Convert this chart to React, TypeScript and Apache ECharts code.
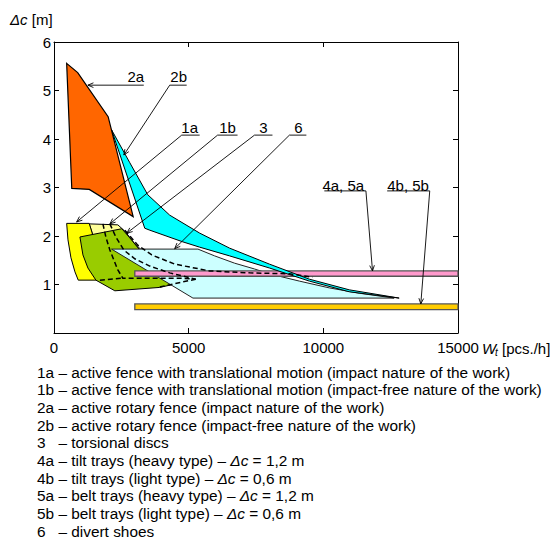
import React, { useEffect, useRef } from 'react';
import * as echarts from 'echarts';

const FONT = '"Liberation Sans", Arial, Helvetica, sans-serif';
type P = [number, number];

// axes
const xMin = 0, xMax = 15000, xStep = 5000;
const yMin = 0, yMax = 6, yStep = 1;

// regions (Wt [pcs./h], Δc [m])
const shape1b: P[] = [[1307,2.25],[2370,2.23],[2630,2.10],[3000,1.84],[3481,1.59],[4111,1.38],[4741,1.24],[5296,1.11],[4741,1.13],[2556,1.13],[1926,1.09],[1407,2.08]];
const shape1a: P[] = [[470,2.26],[1307,2.26],[1407,2.08],[1593,1.71],[1778,1.40],[1926,1.09],[900,1.09],[778,1.26],[630,1.55],[519,1.92]];
const shape3: P[] = [[963,1.98],[2519,2.15],[2815,1.96],[3185,1.71],[3926,1.46],[4852,1.30],[5296,1.11],[3926,0.94],[2259,0.87],[1556,1.09],[1259,1.34],[1074,1.61]];
const shape6: P[] = [[2137,1.73],[5344,1.73],[5963,1.59],[6704,1.44],[7444,1.32],[8000,1.22],[9111,1.07],[10222,0.93],[11333,0.82],[12630,0.72],[5159,0.72]];
const band4a5a: P[] = [[3000,1.28],[15000,1.28],[15000,1.17],[3000,1.17]];
const band4b5b: P[] = [[3000,0.60],[15000,0.60],[15000,0.48],[3000,0.48]];
const shape2b: P[] = [[2137,4.19],[2815,3.51],[3481,2.85],[4296,2.43],[5407,2.06],[6519,1.75],[8000,1.42],[9481,1.11],[10963,0.89],[12815,0.72],[10963,0.85],[9481,1.07],[8000,1.34],[6519,1.59],[5407,1.77],[4778,1.88],[3556,2.12],[3370,2.16]];
const shape2a: P[] = [[470,5.56],[880,5.37],[2010,4.46],[2940,2.40],[1310,2.96],[660,2.98]];

// hidden (dashed) boundaries
const dash1: P[] = [[1815,2.25],[1926,1.98],[2074,1.71],[2370,1.30],[2556,1.13],[4741,1.13],[5259,1.11]];
const dash2: P[] = [[2074,2.25],[2296,1.98],[2593,1.71],[3000,1.53],[3556,1.38],[4296,1.24],[5259,1.11]];
const dash3: P[] = [[2630,2.12],[3111,1.81],[3630,1.61],[4481,1.42],[5778,1.28],[7259,1.24],[8741,1.22],[9593,1.15]];
const dash4: P[] = [[3926,0.95],[5259,1.11]];
const dash5: P[] = [[1704,1.09],[2556,1.13]];

// callouts
const calloutTexts = ['2a','2b','1a','1b','3','6','4a, 5a','4b, 5b'];
const calloutPos: P[] = [[3037,5.28],[4630,5.28],[5037,4.23],[6444,4.23],[7778,4.23],[9074,4.23],[10741,3.05],[13148,3.05]];
const leader2a: P[] = [[3333,5.11],[1259,5.11]];
const leader2b: P[] = [[4926,5.11],[4296,5.11],[2593,3.67]];
const leader1a: P[] = [[5407,4.08],[4741,4.08],[841,2.29]];
const leader1b: P[] = [[6815,4.08],[6074,4.08],[2074,2.25]];
const leader3: P[] = [[8111,4.08],[7444,4.08],[2704,2.06]];
const leader6: P[] = [[9370,4.08],[8741,4.08],[4481,1.74]];
const leader4a5a: P[] = [[10037,2.93],[11581,2.93],[11826,1.28]];
const leader4b5b: P[] = [[12370,2.93],[13951,2.93],[13619,0.60]];

// key
const keyCodes = ['1a','1b','2a','2b','3','4a','4b','5a','5b','6'];
const keyTexts = [
  '– active fence with translational motion (impact nature of the work)',
  '– active fence with translational motion (impact-free nature of the work)',
  '– active rotary fence (impact nature of the work)',
  '– active rotary fence (impact-free nature of the work)',
  '– torsional discs',
  '– tilt trays (heavy type) – {i|Δc} = 1,2 m',
  '– tilt trays (light type) – {i|Δc} = 0,6 m',
  '– belt trays (heavy type) – {i|Δc} = 1,2 m',
  '– belt trays (light type) – {i|Δc} = 0,6 m',
  '– divert shoes',
];

const polygons = [
  { name: '1b', pts: shape1b, fill: '#FFFF99', stroke: '#000', lw: 1 },
  { name: '1a', pts: shape1a, fill: '#FFFF00', stroke: '#000', lw: 1 },
  { name: '3', pts: shape3, fill: '#99CC00', stroke: '#000', lw: 1 },
  { name: '6', pts: shape6, fill: '#CCFFFF', stroke: '#222', lw: 1 },
  { name: '4a, 5a', pts: band4a5a, fill: '#FF99CC', stroke: '#555', lw: 1.3 },
  { name: '4b, 5b', pts: band4b5b, fill: '#FFCC00', stroke: '#555', lw: 1.3 },
  { name: '2b', pts: shape2b, fill: '#00FFFF', stroke: '#000', lw: 1 },
  { name: '2a', pts: shape2a, fill: '#FF6600', stroke: '#000', lw: 1.2 },
];
const dashes = [dash1, dash2, dash3, dash4, dash5];
const leaders = [leader2a, leader2b, leader1a, leader1b, leader3, leader6, leader4a5a, leader4b5b];

const KEY_FS = 15.4;

export default function App() {
  const ref = useRef<HTMLDivElement>(null);
  useEffect(() => {
    const chart = echarts.init(ref.current!, null, { renderer: 'svg' });
    const series: any[] = [];
    let z = 2;
    polygons.forEach((poly) => {
      series.push({
        type: 'custom', name: poly.name, coordinateSystem: 'cartesian2d', silent: true, z: z++, clip: false,
        data: poly.pts, encode: { x: 0, y: 1 },
        renderItem: (params: any, api: any) => {
          if (params.dataIndex !== 0) return null;
          return { type: 'polygon', shape: { points: poly.pts.map((p) => api.coord(p)) },
            style: { fill: poly.fill, stroke: poly.stroke, lineWidth: poly.lw, lineJoin: 'miter' } };
        },
      });
    });
    dashes.forEach((d) => {
      series.push({
        type: 'custom', coordinateSystem: 'cartesian2d', silent: true, z: z++, clip: false,
        data: d, encode: { x: 0, y: 1 },
        renderItem: (params: any, api: any) => {
          if (params.dataIndex !== 0) return null;
          return { type: 'polyline', shape: { points: d.map((p) => api.coord(p)) },
            style: { fill: 'none', stroke: '#000', lineWidth: 1.5, lineDash: [5, 3] } };
        },
      });
    });
    leaders.forEach((l) => {
      series.push({
        type: 'custom', coordinateSystem: 'cartesian2d', silent: true, z: z++, clip: false,
        data: l, encode: { x: 0, y: 1 },
        renderItem: (params: any, api: any) => {
          if (params.dataIndex !== 0) return null;
          const pts = l.map((p) => api.coord(p));
          const e = pts[pts.length - 1];
          const s = pts[pts.length - 2];
          const dx = e[0] - s[0], dy = e[1] - s[1];
          const len = Math.hypot(dx, dy) || 1;
          const ux = dx / len, uy = dy / len;
          const L = 6, a = 0.4;
          const ca = Math.cos(a), sa = Math.sin(a);
          const a1 = [e[0] - L * (ux * ca - uy * sa), e[1] - L * (uy * ca + ux * sa)];
          const a2 = [e[0] - L * (ux * ca + uy * sa), e[1] - L * (uy * ca - ux * sa)];
          return { type: 'group', children: [
            { type: 'polyline', shape: { points: pts }, style: { fill: 'none', stroke: '#000', lineWidth: 0.9 } },
            { type: 'polyline', shape: { points: [a1, e, a2] }, style: { fill: 'none', stroke: '#000', lineWidth: 0.9 } },
          ] };
        },
      });
    });
    series.push({
      type: 'custom', coordinateSystem: 'cartesian2d', silent: true, z: z++, clip: false,
      data: calloutPos, encode: { x: 0, y: 1 },
      renderItem: (params: any, api: any) => {
        const c = api.coord([api.value(0), api.value(1)]);
        return { type: 'text', x: c[0], y: c[1],
          style: { text: calloutTexts[params.dataIndex], fill: '#000', font: `15px ${FONT}`, align: 'center', verticalAlign: 'middle' } };
      },
    });

    const keyEls: any[] = [];
    keyCodes.forEach((code, i) => {
      const y = 372 + i * 17.7;
      keyEls.push({ type: 'text', x: 37, y: y, style: { text: code, fill: '#000', font: `${KEY_FS}px ${FONT}`, verticalAlign: 'middle' } });
      keyEls.push({ type: 'text', x: 37 + KEY_FS * 1.39, y: y, style: { text: keyTexts[i], fill: '#000', fontSize: KEY_FS, fontFamily: FONT, verticalAlign: 'middle',
        rich: { i: { fontStyle: 'italic', fontSize: KEY_FS, fontFamily: FONT, fill: '#000' } } } });
    });

    const axisCommon = {
      axisLine: { show: true, onZero: false, lineStyle: { color: '#000', width: 1 } },
      axisTick: { show: true, inside: true, length: 5, lineStyle: { color: '#000', width: 1 } },
      splitLine: { show: false },
    };

    chart.setOption({
      animation: false,
      backgroundColor: '#fff',
      grid: { left: 54, right: 97, top: 42, bottom: 210, containLabel: false },
      xAxis: [
        { type: 'value', min: xMin, max: xMax, interval: xStep, position: 'bottom', ...axisCommon,
          axisLabel: { margin: 7, color: '#000', fontSize: 15, fontFamily: FONT, formatter: (v: number) => String(v) } },
        { type: 'value', min: xMin, max: xMax, interval: xStep, position: 'top', ...axisCommon, axisLabel: { show: false } },
      ],
      yAxis: [
        { type: 'value', min: yMin, max: yMax, interval: yStep, position: 'left', ...axisCommon,
          axisLabel: { margin: 3, color: '#000', fontSize: 15, fontFamily: FONT, formatter: (v: number) => (v === 0 ? '' : String(v)) } },
        { type: 'value', min: yMin, max: yMax, interval: yStep, position: 'right', ...axisCommon, axisLabel: { show: false } },
      ],
      series,
      graphic: [
        { type: 'text', x: 10, y: 19, style: { text: '{i|Δc} [m]', fill: '#000', fontSize: 15, fontFamily: FONT, verticalAlign: 'middle',
          rich: { i: { fontStyle: 'italic', fontSize: 15, fontFamily: FONT, fill: '#000' } } } },
        { type: 'text', x: 482, y: 348, style: { text: 'W', fill: '#000', font: `italic 15px ${FONT}`, verticalAlign: 'middle' } },
        { type: 'text', x: 495, y: 352, style: { text: 't', fill: '#000', font: `italic 10px ${FONT}`, verticalAlign: 'middle' } },
        { type: 'text', x: 502, y: 348, style: { text: '[pcs./h]', fill: '#000', font: `15px ${FONT}`, verticalAlign: 'middle' } },
        ...keyEls,
      ],
    });
    return () => chart.dispose();
  }, []);
  return <div ref={ref} style={{ position: 'absolute', left: 0, top: 0, width: 555, height: 543 }} />;
}
